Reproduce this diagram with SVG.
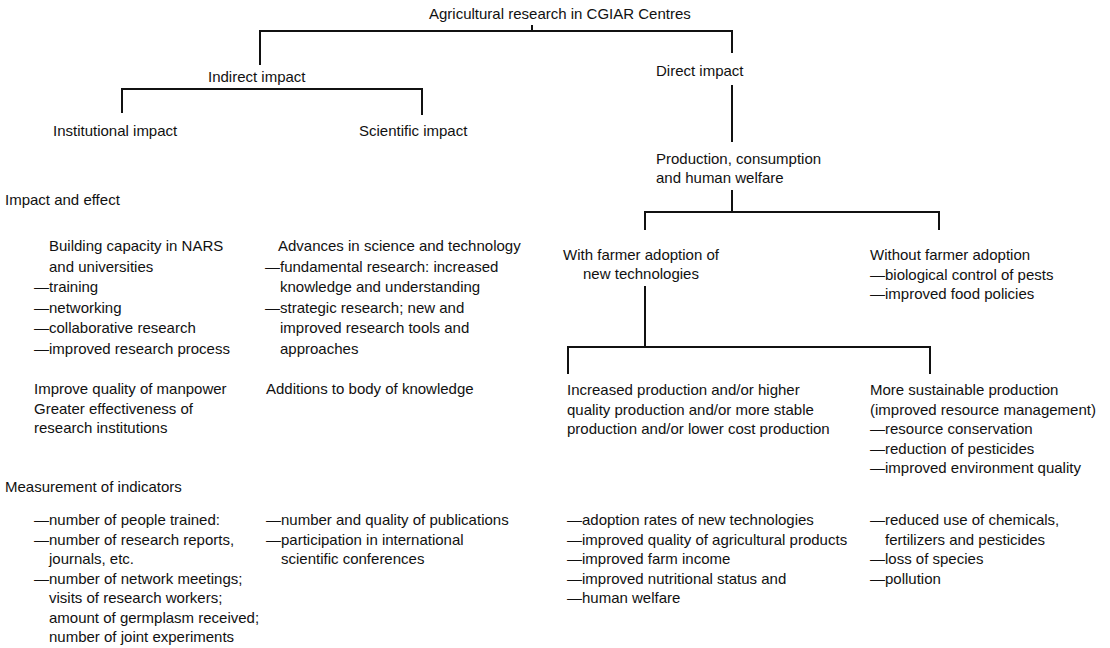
<svg xmlns="http://www.w3.org/2000/svg" width="1110" height="648" viewBox="0 0 1110 648">
<style>
text { font-family: "Liberation Sans", Arial, Helvetica, sans-serif; font-size: 15px; fill: #111; }
.c { stroke: #111; stroke-width: 2; fill: none; stroke-linecap: butt; stroke-linejoin: miter; }
.m { text-anchor: middle; }
</style>
<rect width="1110" height="648" fill="#fff"/>
<g id="connectors" class="c">
<path d="M532 25 V31"/>
<path d="M260 65 V31 H732 V53"/>
<path d="M122 113 V89 H422 V115"/>
<path d="M732 85 V142"/>
<path d="M732 190 V212"/>
<path d="M645 230 V212 H939 V230"/>
<path d="M645 286 V347"/>
<path d="M568 374 V347 H930 V374"/>
</g>
<g id="root"><text x="429" y="19">Agricultural research in CGIAR Centres</text></g>
<g id="indirect"><text x="208" y="82">Indirect impact</text></g>
<g id="direct"><text x="656" y="76">Direct impact</text></g>
<g id="institutional"><text x="53" y="136">Institutional impact</text></g>
<g id="scientific"><text x="359" y="136">Scientific impact</text></g>
<g id="production"><text x="656" y="164">Production, consumption</text><text x="656" y="183">and human welfare</text></g>
<g id="label-impact"><text x="5" y="205">Impact and effect</text></g>
<g id="with-adoption"><text class="m" x="641" y="260">With farmer adoption of</text><text class="m" x="641" y="279">new technologies</text></g>
<g id="without-adoption"><text x="870" y="260">Without farmer adoption</text><text x="870" y="279.5">—biological control of pests</text><text x="870" y="299">—improved food policies</text></g>
<g id="capacity">
<text x="49" y="251">Building capacity in NARS</text>
<text x="49" y="271.5">and universities</text>
<text x="34" y="292">—training</text>
<text x="34" y="312.5">—networking</text>
<text x="34" y="333">—collaborative research</text>
<text x="34" y="353.5">—improved research process</text>
</g>
<g id="advances">
<text x="278" y="251">Advances in science and technology</text>
<text x="265" y="271.5">—fundamental research: increased</text>
<text x="280" y="292">knowledge and understanding</text>
<text x="265" y="312.5">—strategic research; new and</text>
<text x="280" y="333">improved research tools and</text>
<text x="280" y="353.5">approaches</text>
</g>
<g id="manpower">
<text x="34" y="394">Improve quality of manpower</text>
<text x="34" y="413.5">Greater effectiveness of</text>
<text x="34" y="433">research institutions</text>
</g>
<g id="knowledge"><text x="266" y="394">Additions to body of knowledge</text></g>
<g id="increased">
<text x="567" y="395">Increased production and/or higher</text>
<text x="567" y="414.5">quality production and/or more stable</text>
<text x="567" y="434">production and/or lower cost production</text>
</g>
<g id="sustainable">
<text x="870" y="395">More sustainable production</text>
<text x="870" y="414.5">(improved resource management)</text>
<text x="870" y="434">—resource conservation</text>
<text x="870" y="453.5">—reduction of pesticides</text>
<text x="870" y="473">—improved environment quality</text>
</g>
<g id="label-measurement"><text x="5" y="492">Measurement of indicators</text></g>
<g id="ind-institutional">
<text x="34" y="525">—number of people trained:</text>
<text x="34" y="544.5">—number of research reports,</text>
<text x="49" y="564">journals, etc.</text>
<text x="34" y="583.5">—number of network meetings;</text>
<text x="49" y="603">visits of research workers;</text>
<text x="49" y="622.5">amount of germplasm received;</text>
<text x="49" y="642">number of joint experiments</text>
</g>
<g id="ind-scientific">
<text x="266" y="525">—number and quality of publications</text>
<text x="266" y="544.5">—participation in international</text>
<text x="281" y="564">scientific conferences</text>
</g>
<g id="ind-production">
<text x="567" y="525">—adoption rates of new technologies</text>
<text x="567" y="544.5">—improved quality of agricultural products</text>
<text x="567" y="564">—improved farm income</text>
<text x="567" y="583.5">—improved nutritional status and</text>
<text x="567" y="603">—human welfare</text>
</g>
<g id="ind-sustainable">
<text x="870" y="525">—reduced use of chemicals,</text>
<text x="885" y="544.5">fertilizers and pesticides</text>
<text x="870" y="564">—loss of species</text>
<text x="870" y="583.5">—pollution</text>
</g>
</svg>
